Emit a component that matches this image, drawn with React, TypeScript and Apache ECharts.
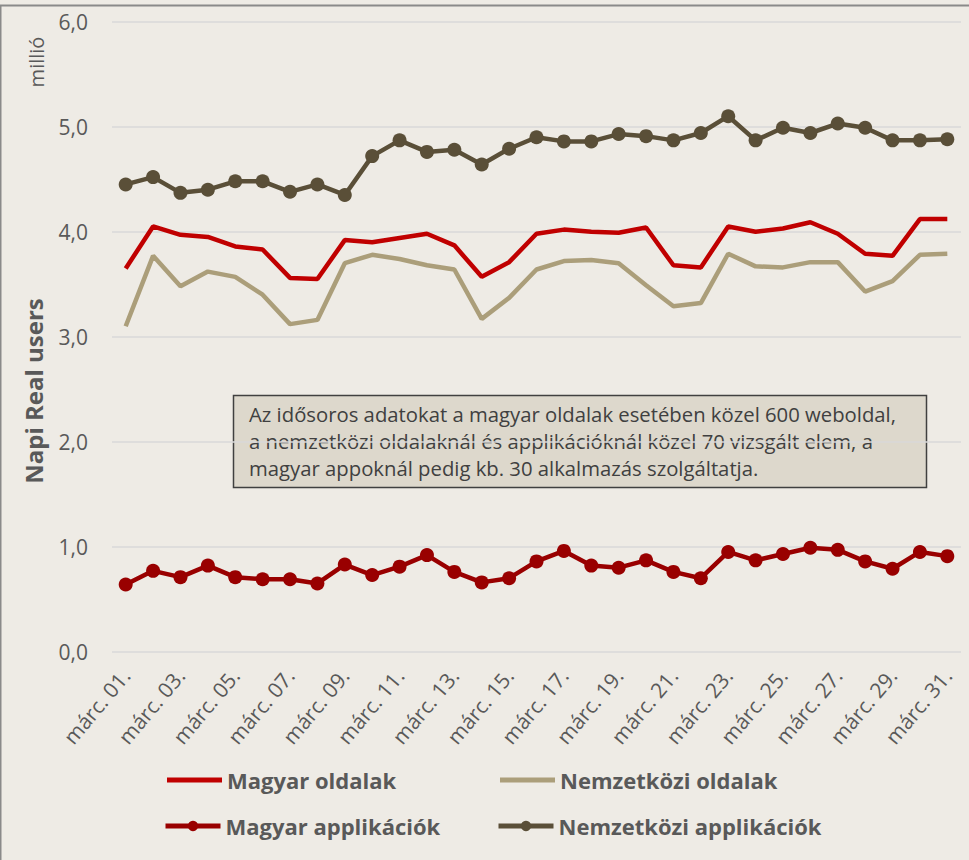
import React, { useEffect, useRef } from "react";
import * as echarts from "echarts";

const categories = [
  "márc. 01.", "márc. 02.", "márc. 03.", "márc. 04.", "márc. 05.", "márc. 06.", "márc. 07.", "márc. 08.",
  "márc. 09.", "márc. 10.", "márc. 11.", "márc. 12.", "márc. 13.", "márc. 14.", "márc. 15.", "márc. 16.",
  "márc. 17.", "márc. 18.", "márc. 19.", "márc. 20.", "márc. 21.", "márc. 22.", "márc. 23.", "márc. 24.",
  "márc. 25.", "márc. 26.", "márc. 27.", "márc. 28.", "márc. 29.", "márc. 30.", "márc. 31.",
];

const magyarOldalak = [
  3.65, 4.05, 3.97, 3.95, 3.86, 3.83, 3.56, 3.55, 3.92, 3.9, 3.94, 3.98, 3.87, 3.57, 3.71, 3.98,
  4.02, 4.0, 3.99, 4.04, 3.68, 3.66, 4.05, 4.0, 4.03, 4.09, 3.98, 3.79, 3.77, 4.12, 4.12,
];

const nemzetkoziOldalak = [
  3.1, 3.77, 3.48, 3.62, 3.57, 3.4, 3.12, 3.16, 3.7, 3.78, 3.74, 3.68, 3.64, 3.17, 3.37, 3.64,
  3.72, 3.73, 3.7, 3.49, 3.29, 3.32, 3.79, 3.67, 3.66, 3.71, 3.71, 3.43, 3.53, 3.78, 3.79,
];

const magyarApp = [
  0.64, 0.77, 0.71, 0.82, 0.71, 0.69, 0.69, 0.65, 0.83, 0.73, 0.81, 0.92, 0.76, 0.66, 0.7, 0.86,
  0.96, 0.82, 0.8, 0.87, 0.76, 0.7, 0.95, 0.87, 0.93, 0.99, 0.97, 0.86, 0.79, 0.95, 0.91,
];

const nemzetkoziApp = [
  4.45, 4.52, 4.37, 4.4, 4.48, 4.48, 4.38, 4.45, 4.35, 4.72, 4.87, 4.76, 4.78, 4.64, 4.79, 4.9,
  4.86, 4.86, 4.93, 4.91, 4.87, 4.94, 5.1, 4.87, 4.99, 4.94, 5.03, 4.99, 4.87, 4.87, 4.88,
];

const seriesNames = ["Magyar oldalak", "Nemzetközi oldalak", "Magyar applikációk", "Nemzetközi applikációk"];
const yTicks = [0, 1, 2, 3, 4, 5, 6];

const noteLines = [
  "Az idősoros adatokat a magyar oldalak esetében közel 600 weboldal,",
  "a nemzetközi oldalaknál és applikációknál közel 70 vizsgált elem, a",
  "magyar appoknál pedig kb. 30 alkalmazás szolgáltatja.",
];

const FONT = "'Open Sans', 'Noto Sans', sans-serif";
const TEXT = "#595959";

export default function App() {
  const ref = useRef<HTMLDivElement>(null);
  useEffect(() => {
    const chart = echarts.init(ref.current!, null, { renderer: "svg" });
    const legendText = { fontSize: 22, fontWeight: "bold", color: TEXT, fontFamily: FONT };
    const lineLegend = {
      itemWidth: 55,
      itemHeight: 5,
      icon: "rect",
      padding: 0,
      textStyle: legendText,
      selectedMode: false,
    };
    const symLegend = {
      itemWidth: 55,
      itemHeight: 13,
      padding: 0,
      lineStyle: { width: 5 },
      textStyle: legendText,
      selectedMode: false,
    };
    chart.setOption({
      animation: false,
      backgroundColor: "#eeebe5",
      textStyle: { fontFamily: FONT },
      grid: { left: 112, right: 8, top: 21.7, bottom: 208.3, containLabel: false },
      xAxis: {
        type: "category",
        data: categories,
        boundaryGap: true,
        axisLine: { show: false },
        axisTick: { show: false },
        axisLabel: {
          interval: 1,
          rotate: 50,
          fontSize: 21,
          color: TEXT,
          fontFamily: FONT,
          margin: 20,
        },
      },
      yAxis: {
        type: "value",
        min: yTicks[0],
        max: yTicks[yTicks.length - 1],
        interval: 1,
        axisLine: { show: false },
        axisTick: { show: false },
        splitLine: { lineStyle: { color: "#d9d9d9", width: 1.5 } },
        axisLabel: {
          fontSize: 21,
          color: TEXT,
          fontFamily: FONT,
          margin: 24,
          formatter: (v: number) => v.toFixed(1).replace(".", ","),
        },
      },
      legend: [
        { ...lineLegend, data: [seriesNames[0]], left: 167, top: 769 },
        { ...lineLegend, data: [seriesNames[1]], left: 500, top: 769 },
        { ...symLegend, data: [seriesNames[2]], left: 163, top: 815 },
        { ...symLegend, data: [seriesNames[3]], left: 496, top: 815 },
      ],
      series: [
        {
          name: seriesNames[0],
          type: "line",
          data: magyarOldalak,
          symbol: "none",
          lineStyle: { color: "#c00000", width: 4.5 },
          itemStyle: { color: "#c00000" },
          z: 3,
        },
        {
          name: seriesNames[1],
          type: "line",
          data: nemzetkoziOldalak,
          symbol: "none",
          lineStyle: { color: "#ab9e7a", width: 4.5 },
          itemStyle: { color: "#ab9e7a" },
          z: 2,
        },
        {
          name: seriesNames[2],
          type: "line",
          data: magyarApp,
          symbol: "circle",
          symbolSize: 14,
          lineStyle: { color: "#990000", width: 4.5 },
          itemStyle: { color: "#990000" },
          z: 4,
        },
        {
          name: seriesNames[3],
          type: "line",
          data: nemzetkoziApp,
          symbol: "circle",
          symbolSize: 14,
          lineStyle: { color: "#5a4f38", width: 4.5 },
          itemStyle: { color: "#5a4f38" },
          z: 4,
        },
      ],
      graphic: [
        { type: "rect", shape: { x: 0, y: 4.5, width: 969, height: 2 }, style: { fill: "#8a8a8a" }, z: 100 },
        { type: "rect", shape: { x: 0, y: 5, width: 1.5, height: 855 }, style: { fill: "#8a8a8a" }, z: 100 },
        {
          type: "text",
          x: 33,
          y: 391,
          rotation: Math.PI / 2,
          style: {
            text: "Napi Real users",
            fontSize: 24,
            fontWeight: "bold",
            fill: TEXT,
            fontFamily: FONT,
            align: "center",
            verticalAlign: "middle",
          },
        },
        {
          type: "text",
          x: 36,
          y: 62,
          rotation: Math.PI / 2,
          style: {
            text: "millió",
            fontSize: 20,
            fill: TEXT,
            fontFamily: FONT,
            align: "center",
            verticalAlign: "middle",
          },
        },
        {
          type: "group",
          z: 20,
          children: [
            {
              type: "rect",
              shape: { x: 233.5, y: 395.5, width: 693, height: 92 },
              style: { fill: "#ddd8cc", stroke: "#404040", lineWidth: 1.5 },
            },
            {
              type: "text",
              x: 249,
              y: 400,
              style: {
                text: noteLines.join("\n"),
                fontSize: 20.3,
                lineHeight: 27,
                fill: "#404040",
                fontFamily: FONT,
              },
            },
          ],
        },
      ],
    });
    return () => chart.dispose();
  }, []);
  return (
    <div
      ref={ref}
      style={{ position: "fixed", left: 0, top: 0, width: 969, height: 860, background: "#eeebe5" }}
    />
  );
}
